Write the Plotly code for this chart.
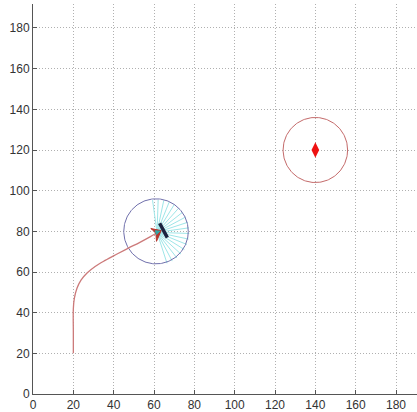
import numpy as np
import plotly.graph_objects as go

# Travelled path of the robot (x, y)
path_x = [20, 20, 20, 20.5, 21.8, 23.8, 26.8, 30.8, 35.8, 41.2, 47, 53, 58, 61.5]
path_y = [20, 30, 42, 47, 52, 56, 59.5, 62.7, 65.7, 68.6, 71.6, 74.6, 77.3, 79.3]

# Goal position and its tolerance circle
goal_x, goal_y, goal_r = 140, 120, 16

# Robot pose and sensing range
robot_x, robot_y, robot_heading = 61.5, 79.5, 15
sense_cx, sense_cy, sense_r = 61, 80, 16
ray_angles = list(range(-72, 106, 10))

# Obstacle edge seen in front of the robot
edge_x = [62.8, 66.6]
edge_y = [84.0, 76.9]

ticks = [0, 20, 40, 60, 80, 100, 120, 140, 160, 180]

fig = go.Figure()

# Sensor rays
rx, ry = [], []
for a in ray_angles:
    t = np.deg2rad(a)
    rx += [robot_x, robot_x + sense_r * np.cos(t), None]
    ry += [robot_y, robot_y + sense_r * np.sin(t), None]
fig.add_trace(go.Scatter(x=rx, y=ry, mode="lines",
                         line=dict(color="#9ee6e8", width=1), hoverinfo="skip"))

# Circles
th = np.linspace(0, 2 * np.pi, 181)
fig.add_trace(go.Scatter(x=sense_cx + sense_r * np.cos(th), y=sense_cy + sense_r * np.sin(th),
                         mode="lines", line=dict(color="#7070ac", width=1), hoverinfo="skip"))
fig.add_trace(go.Scatter(x=goal_x + goal_r * np.cos(th), y=goal_y + goal_r * np.sin(th),
                         mode="lines", line=dict(color="#c46a6a", width=1), hoverinfo="skip"))

# Path
fig.add_trace(go.Scatter(x=path_x, y=path_y, mode="lines", line_shape="spline",
                         line=dict(color="#cc7a7a", width=1.3), hoverinfo="skip"))

# Goal marker
fig.add_trace(go.Scatter(x=[goal_x], y=[goal_y], mode="markers",
                         marker=dict(symbol="diamond-tall", size=11, color="#ee1111"),
                         hoverinfo="skip"))

# Robot body: red arrow head with teal centre
h = np.deg2rad(robot_heading)
def rot(pts):
    out_x, out_y = [], []
    for px, py in pts:
        out_x.append(robot_x + px * np.cos(h) - py * np.sin(h))
        out_y.append(robot_y + px * np.sin(h) + py * np.cos(h))
    return out_x + [out_x[0]], out_y + [out_y[0]]

bx, by = rot([(2.2, 0.3), (-2.5, 2.6), (-0.6, 0.0), (-1.4, -4.2)])
fig.add_trace(go.Scatter(x=bx, y=by, mode="lines", fill="toself", fillcolor="#b5352d",
                         line=dict(color="#b5352d", width=1), hoverinfo="skip"))
cx, cy = rot([(1.5, 0.2), (-0.6, 1.0), (-0.5, -1.0)])
fig.add_trace(go.Scatter(x=cx, y=cy, mode="lines", fill="toself", fillcolor="#2fa7a7",
                         line=dict(color="#2fa7a7", width=1), hoverinfo="skip"))

# Obstacle edge
fig.add_trace(go.Scatter(x=edge_x, y=edge_y, mode="lines",
                         line=dict(color="#1c2440", width=3.5), hoverinfo="skip"))

axis_common = dict(
    tickvals=ticks, ticktext=[str(t) for t in ticks],
    showgrid=True, gridcolor="#b0b0b0", griddash="1px,2px", gridwidth=1,
    zeroline=False, showline=True, linecolor="#555555", linewidth=1,
    ticks="inside", ticklen=4, tickcolor="#555555",
    tickfont=dict(family="Liberation Sans, Arial", size=12, color="#333333"),
)

fig.update_layout(
    width=417, height=412,
    margin=dict(l=33, r=0, t=4, b=18),
    paper_bgcolor="white", plot_bgcolor="white",
    showlegend=False,
    xaxis=dict(range=[0, 190.4], **axis_common),
    yaxis=dict(range=[0, 191.8], **axis_common),
)

fig.write_html("out.html")
